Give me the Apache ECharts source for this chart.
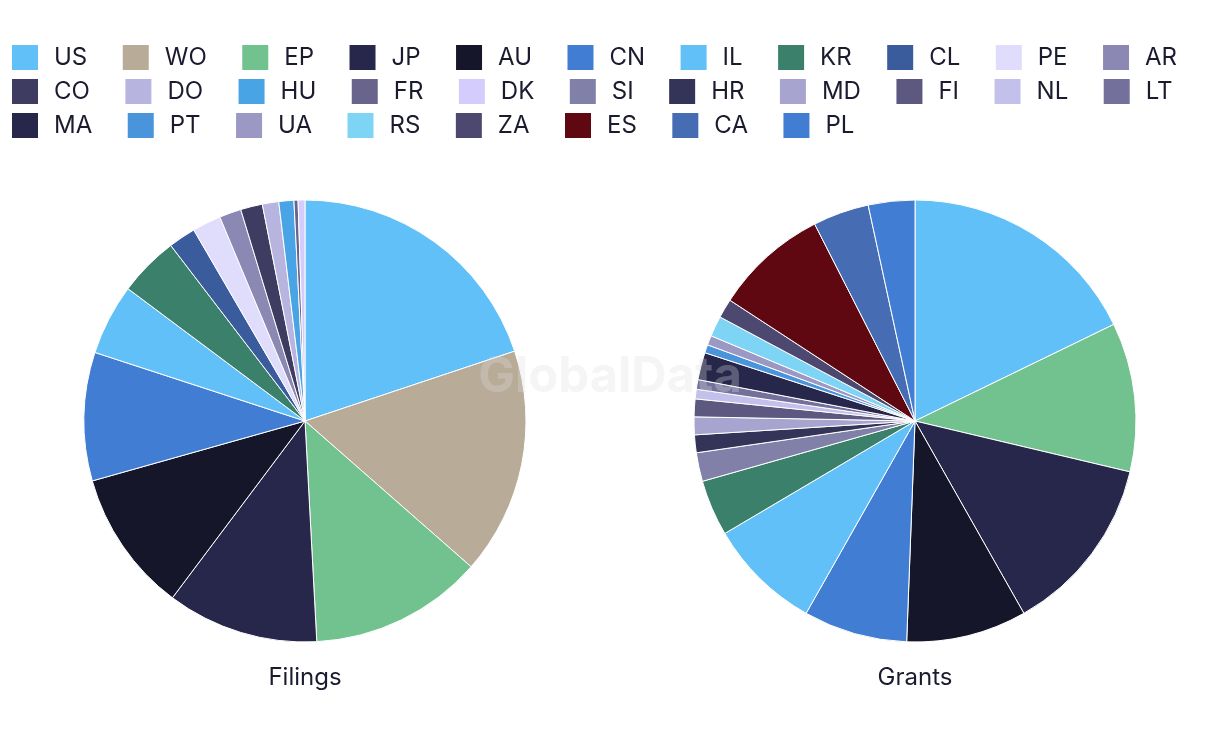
<!DOCTYPE html>
<html>
<head>
<meta charset="utf-8">
<script src="https://cdn.jsdelivr.net/npm/echarts@6/dist/echarts.min.js"></script>
<style>
html,body{margin:0;padding:0;background:#fff;}
#chart{width:1220px;height:754px;}
</style>
</head>
<body>
<div id="chart"></div>
<script>
// Legend categories (in legend order) and their colours
const categories = ["US","WO","EP","JP","AU","CN","IL","KR","CL","PE","AR",
                    "CO","DO","HU","FR","DK","SI","HR","MD","FI","NL","LT",
                    "MA","PT","UA","RS","ZA","ES","CA","PL"];
const categoryColors = ["#62c0f8","#b8ab98","#72c290","#27264b","#15162a","#427dd4","#62c0f8","#3a806a","#3a5c9c","#e0dcfc","#8c88b4",
                        "#3e3c60","#b8b4e0","#48a4e4","#68648c","#d4ccfc","#8080a8","#343458","#a8a4d0","#5c5880","#c4c0ec","#74709c",
                        "#27264b","#4a94dc","#9c98c4","#7ed4f4","#4c4870","#600812","#466cb4","#427dd4"];

// Filings pie (share, %)
const filingsNames  = ["US","WO","EP","JP","AU","CN","IL","KR","CL","PE","AR","CO","DO","HU","FR","DK"];
const filingsValues = [19.9,16.6,12.7,11.1,10.4,9.4,5.2,4.4,2.0,2.1,1.6,1.6,1.2,1.1,0.3,0.5];

// Grants pie (share, %)
const grantsNames  = ["US","EP","JP","AU","CN","IL","KR","SI","HR","MD","FI","NL","LT","MA","PT","UA","RS","ZA","ES","CA","PL"];
const grantsValues = [17.8,10.9,13.1,8.8,7.6,8.3,4.1,2.1,1.3,1.3,1.3,0.7,0.7,2.0,0.6,0.7,1.5,1.4,8.3,4.1,3.4];

const pieTitles = ["Filings","Grants"];

function colorOf(name){ return categoryColors[categories.indexOf(name)]; }
function buildData(names, values){
  return names.map((n,i)=>({name:n, value:values[i], itemStyle:{color:colorOf(n)}}));
}

const textColor = "#1b1b2f";
const font = "Inter, Roboto, 'DejaVu Sans', sans-serif";

function legendRow(start, end, top){
  return {
    data: categories.slice(start, end),
    orient: "horizontal",
    left: 10, top: top,
    padding: 0,
    itemWidth: 28, itemHeight: 27,
    itemGap: 33.5,
    icon: "rect",
    selectedMode: false,
    textStyle: {fontFamily: font, fontSize: 24, color: textColor, padding: [0,0,0,10]}
  };
}

const chart = echarts.init(document.getElementById("chart"), null, {renderer: "canvas"});
const pieCommon = {
  type: "pie",
  radius: 221,
  startAngle: 90,
  clockwise: true,
  label: {show: false},
  labelLine: {show: false},
  emphasis: {disabled: true},
  itemStyle: {borderColor: "#ffffff", borderWidth: 1}
};
chart.setOption({
  animation: false,
  backgroundColor: "#ffffff",
  legend: [legendRow(0,11,43), legendRow(11,22,77), legendRow(22,30,111)],
  series: [
    Object.assign({}, pieCommon, {name: pieTitles[0], center: [305, 421], data: buildData(filingsNames, filingsValues)}),
    Object.assign({}, pieCommon, {name: pieTitles[1], center: [915, 421], data: buildData(grantsNames, grantsValues)})
  ],
  graphic: [
    {type: "text", x: 305, y: 678, style: {text: pieTitles[0], font: "24px " + font, fill: textColor, textAlign: "center", textVerticalAlign: "middle"}, z: 10},
    {type: "text", x: 915, y: 678, style: {text: pieTitles[1], font: "24px " + font, fill: textColor, textAlign: "center", textVerticalAlign: "middle"}, z: 10},
    {type: "text", x: 610, y: 377, style: {text: "GlobalData", font: "bold 49px " + font, fill: "rgba(221,221,221,0.30)", textAlign: "center", textVerticalAlign: "middle"}, z: 100}
  ]
});
</script>
</body>
</html>
